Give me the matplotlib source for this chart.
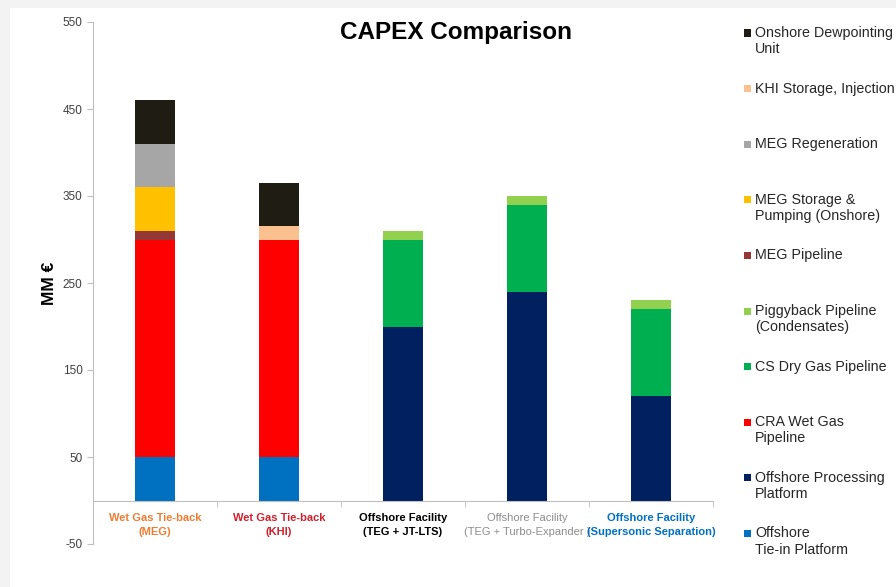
import numpy as np
import matplotlib.pyplot as plt
from matplotlib.patches import Rectangle

plt.rcParams['font.family'] = ['Liberation Sans', 'DejaVu Sans']
plt.rcParams['axes.unicode_minus'] = False

categories = ['Wet Gas Tie-back\n(MEG)', 'Wet Gas Tie-back\n(KHI)', 'Offshore Facility\n(TEG + JT-LTS)',
              'Offshore Facility\n(TEG + Turbo-Expander )', 'Offshore Facility\n(Supersonic Separation)']
cat_colors = ['#ED7D31', '#D0202C', '#000000', '#8C8C8C', '#0070C0']
cat_bold = [True, True, True, False, True]

# stacking order, bottom to top
series = ['Offshore\nTie-in Platform', 'Offshore Processing\nPlatform', 'CRA Wet Gas\nPipeline',
          'CS Dry Gas Pipeline', 'Piggyback Pipeline\n(Condensates)', 'MEG Pipeline',
          'MEG Storage &\nPumping (Onshore)', 'MEG Regeneration', 'KHI Storage, Injection',
          'Onshore Dewpointing\nUnit']
colors = ['#0070C0', '#002060', '#FF0000', '#00B050', '#92D050', '#953735',
          '#FFC000', '#A6A6A6', '#FAC090', '#1F1D13']

tie_in = [50, 50, 0, 0, 0]
processing = [0, 0, 200, 240, 120]
cra_wet = [250, 250, 0, 0, 0]
cs_dry = [0, 0, 100, 100, 100]
piggyback = [0, 0, 10, 10, 10]
meg_pipe = [10, 0, 0, 0, 0]
meg_storage = [50, 0, 0, 0, 0]
meg_regen = [50, 0, 0, 0, 0]
khi_storage = [0, 15, 0, 0, 0]
dewpoint = [50, 50, 0, 0, 0]
values = [tie_in, processing, cra_wet, cs_dry, piggyback, meg_pipe,
          meg_storage, meg_regen, khi_storage, dewpoint]

W, H = 896, 587
fig = plt.figure(figsize=(W / 100, H / 100), dpi=100, facecolor='#F3F3F3')
fig.patches.append(Rectangle((10 / W, 0), 1, 1 - 8 / H, transform=fig.transFigure,
                             facecolor='white', edgecolor='none', zorder=-5))

ax = fig.add_axes([93 / W, 1 - 544 / H, 620 / W, 522 / H])
ax.set_facecolor('none')

x = np.arange(len(categories))
bottom = np.zeros(len(categories))
for vals, col in zip(values, colors):
    vals = np.array(vals, dtype=float)
    ax.bar(x, vals, 0.33, bottom=bottom, color=col, edgecolor='none', zorder=2)
    bottom += vals

ax.set_xlim(-0.5, len(categories) - 0.5)
ax.set_ylim(-50, 550)
ax.set_yticks(np.arange(-50, 551, 100))
ax.tick_params(axis='y', labelsize=8.5, labelcolor='#404040', color='#BFBFBF', length=4)
for s in ['top', 'right']:
    ax.spines[s].set_visible(False)
ax.spines['left'].set_color('#BFBFBF')
ax.spines['bottom'].set_position(('data', 0))
ax.spines['bottom'].set_color('#BFBFBF')

ax.set_xticks(x)
ax.set_xticklabels(categories, linespacing=1.45)
ax.set_xticks(np.arange(len(categories) + 1) - 0.5, minor=True)
ax.tick_params(axis='x', which='major', length=0, pad=9, labelsize=8)
ax.tick_params(axis='x', which='minor', length=4, color='#BFBFBF')
for lbl, c, b in zip(ax.get_xticklabels(), cat_colors, cat_bold):
    lbl.set_color(c)
    lbl.set_fontweight('bold' if b else 'normal')

ax.set_ylabel('MM €', fontsize=12.5, fontweight='bold', labelpad=4)

fig.text(456 / W, 1 - 32 / H, 'CAPEX Comparison', fontsize=17.5, fontweight='bold',
         ha='center', va='center')

# legend, top entry first
for i, (lab, col) in enumerate(zip(series[::-1], colors[::-1])):
    ytop = 1 - (33 + i * 55.6) / H
    fig.patches.append(Rectangle((744 / W, ytop - 3.5 / H), 7 / W, 7 / H,
                                 transform=fig.transFigure, facecolor=col, edgecolor='none'))
    fig.text(755 / W, ytop + 7 / H, lab, fontsize=10.3, color='#262626', ha='left', va='top',
             linespacing=1.2)

fig.savefig('out.png', dpi=100, facecolor=fig.get_facecolor())
